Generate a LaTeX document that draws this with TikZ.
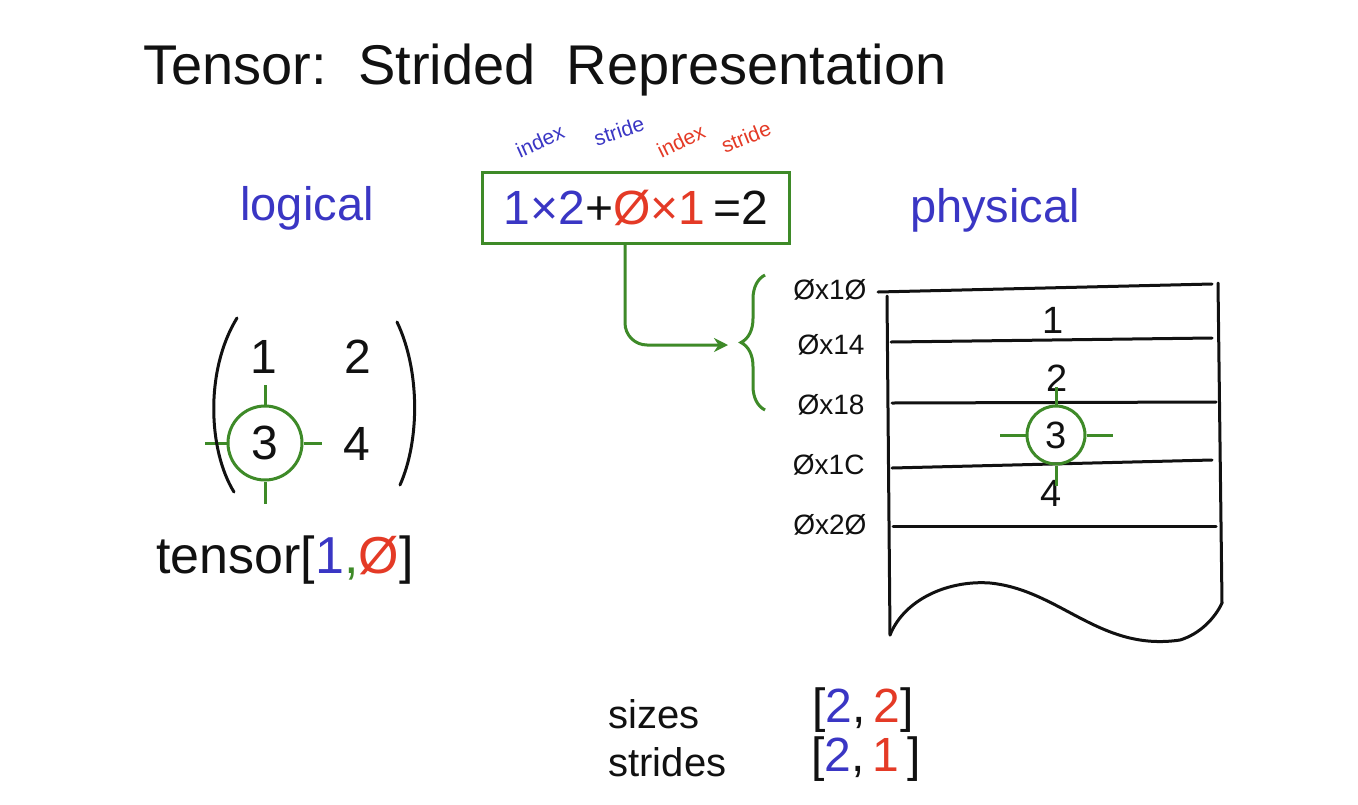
\documentclass[tikz,border=0pt]{standalone}
\usepackage{fontspec}
\setmainfont{Liberation Sans}
\usetikzlibrary{arrows.meta,positioning,decorations.pathreplacing}
\definecolor{ink}{HTML}{111111}
\definecolor{idxblue}{HTML}{3A36C4}
\definecolor{strred}{HTML}{E43A26}
\definecolor{ringgreen}{HTML}{3E8A28}
\tikzset{
  titletext/.style={text=ink,font=\fontsize{56}{64}\selectfont},
  heading/.style={text=idxblue,font=\fontsize{47}{54}\selectfont},
  tag/.style={font=\fontsize{21}{24}\selectfont,inner sep=0pt},
  eqbox/.style={draw=ringgreen,line width=3pt,minimum width=307pt,minimum height=71pt,
                font=\fontsize{48}{54}\selectfont,text=ink},
  entry/.style={text=ink,font=\fontsize{48}{54}\selectfont},
  cell/.style={text=ink,font=\fontsize{38}{44}\selectfont},
  addr/.style={text=ink,font=\fontsize{28}{32}\selectfont,anchor=east},
  ring/.style={draw=ringgreen,line width=3pt,circle,inner sep=0pt},
  notch/.style={draw=ringgreen,line width=3pt},
  wire/.style={draw=ink,line width=3pt,line cap=round},
  link/.style={-{Stealth[length=14pt,width=14pt]},draw=ringgreen,line width=3pt,rounded corners=22pt},
  curly/.style={draw=ringgreen,line width=3pt,decorate,decoration={brace,amplitude=24pt}},
  meta/.style={text=ink,font=\fontsize{40}{46}\selectfont}
}
\begin{document}
\begin{tikzpicture}[x=1pt,y=-1pt]
\useasboundingbox[fill=white] (0,0) rectangle (1358,804);
\node[titletext] (title) at (545,70) {Tensor:\ \ Strided\ \ Representation};
\node[heading] (logical) at (307,208) {logical};
\node[heading] (physical) at (995,210) {physical};
% formula box
\node[eqbox] (eq) at (636,208) {{\color{idxblue}1×2}+{\color{strred}Ø×1}\,=2};
\node[tag,text=idxblue,rotate=24] (ix1) at (540,141) {index};
\node[tag,text=idxblue,rotate=18] (st1) at (619,131) {stride};
\node[tag,text=strred,rotate=26] (ix2) at (681,141) {index};
\node[tag,text=strred,rotate=22] (st2) at (746,137) {stride};
% logical matrix
\node[entry] (m1) at (264,357) {1};
\node[entry] (m2) at (358,357) {2};
\node[ring,minimum size=74pt,entry] (m3) at (265,443) {3};
\node[entry] (m4) at (357,444) {4};
\draw[notch] (m3.north) -- ++(0,-20);
\draw[notch] (m3.south) -- ++(0,22);
\draw[notch] (m3.west) -- ++(-22,0);
\draw[notch] (m3.east) -- ++(18,0);
\draw[wire] (237,318) .. controls (205,370) and (208,450) .. (234,492);
\draw[wire] (397,322) .. controls (420,370) and (420,440) .. (400,485);
\node[entry,font=\fontsize{52}{58}\selectfont] (index) at (285,560)
  {tensor[{\color{idxblue}1}{\color{ringgreen},}{\color{strred}Ø}]};
% physical memory
\node[addr] (a0) at (870,290) {Øx1Ø};
\node[addr] (a1) at (868,345) {Øx14};
\node[addr] (a2) at (868,405) {Øx18};
\node[addr] (a3) at (868,465) {Øx1C};
\node[addr] (a4) at (870,525) {Øx2Ø};
\draw[wire] (878,292) -- (1212,284);
\draw[wire] (887,296) -- (890,635);
\draw[wire] (1218,283) -- (1222,603);
\draw[wire] (891,342) -- (1212,338);
\draw[wire] (892,403) -- (1216,402);
\draw[wire] (892,468) -- (1212,460);
\draw[wire] (893,526) -- (1216,526);
\draw[wire] (890,635) .. controls (905,598) and (950,580) .. (990,583)
  .. controls (1060,590) and (1100,652) .. (1180,640)
  .. controls (1200,634) and (1215,618) .. (1222,603);
\node[cell] (p1) at (1053,320) {1};
\node[cell] (p2) at (1057,378) {2};
\node[ring,minimum size=58pt,cell] (p3) at (1056,435) {3};
\node[cell] (p4) at (1051,493) {4};
\draw[notch] (p3.north) -- ++(0,-18);
\draw[notch] (p3.south) -- ++(0,20);
\draw[notch] (p3.west) -- ++(-26,0);
\draw[notch] (p3.east) -- ++(26,0);
% brace and arrow
\draw[curly] (765,410) -- (765,275);
\coordinate (bracetip) at (728,345);
\draw[link] ([xshift=-11pt]eq.south) |- (bracetip);
% metadata
\node[meta,anchor=west] (sizes) at (605,714) {sizes};
\node[meta,anchor=west] (strides) at (605,762) {strides};
\node[meta,font=\fontsize{48}{54}\selectfont] (sv) at (863,710)
  {[{\color{idxblue}2},\,{\color{strred}2}]};
\node[meta,font=\fontsize{48}{54}\selectfont] (tv) at (866,759)
  {[{\color{idxblue}2},\,{\color{strred}1}\,]};
\end{tikzpicture}
\end{document}
